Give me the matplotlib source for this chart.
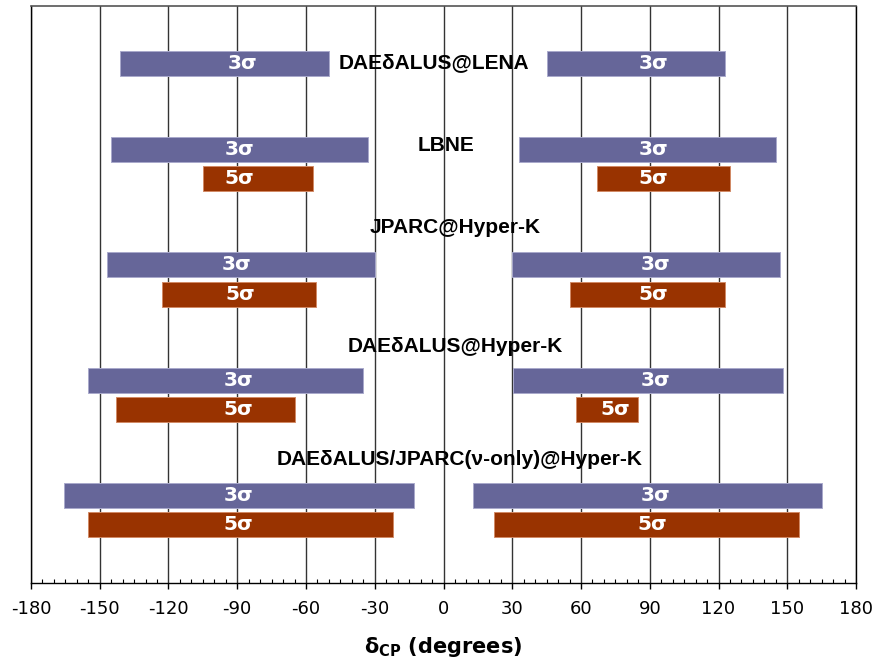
import numpy as np
import matplotlib.pyplot as plt
from matplotlib.ticker import MultipleLocator

plt.rcParams['axes.unicode_minus'] = False

# experiments (top to bottom)
names = ['DAEδALUS@LENA', 'LBNE', 'JPARC@Hyper-K', 'DAEδALUS@Hyper-K',
         'DAEδALUS/JPARC(ν-only)@Hyper-K']

# 3 sigma discovery ranges (degrees): negative side and positive side
s3_neg_lo = [-141, -145, -147, -155, -165.5]
s3_neg_hi = [-50, -33, -30, -35, -13]
s3_pos_lo = [45, 33, 30, 30.5, 13]
s3_pos_hi = [123, 145, 147, 148, 165]

# 5 sigma ranges (none for LENA)
s5_neg_lo = [np.nan, -105, -123, -143, -155]
s5_neg_hi = [np.nan, -57, -55.5, -65, -22]
s5_pos_lo = [np.nan, 67, 55, 58, 22]
s5_pos_hi = [np.nan, 125, 123, 85, 155]

col3 = '#666699'
col5 = '#993300'

# vertical layout (group units, each group is 1 unit tall)
row3 = [0.5, 0.245, 0.245, 0.245, 0.245]
row5 = 0.5
bar_h = 0.216
name_off = [0.49, 0.21, -0.075, -0.05, -0.07]
name_x = [-4, 1, 5, 5, 7]
# where the sigma labels sit (degrees)
lab3_x = [(-87.5, 91.5), (-89, 91.5), (-90.5, 92.3), (-89.5, 92.3), (-89.5, 92.3)]
lab5_x = [None, (-89, 91.5), (-88.8, 91.5), (-89.5, 75), (-89.5, 91)]

fig = plt.figure(figsize=(8.76, 6.68), dpi=100)
ax = fig.add_axes([31/876, 1-582.5/668, 825/876, 576.5/668])

lab_kw = dict(color='white', fontweight='bold', fontsize=14.5,
              family='DejaVu Sans', ha='center', va='center')

for k in range(len(names)):
    y3 = k + row3[k]
    for j, (lo, hi) in enumerate([(s3_neg_lo[k], s3_neg_hi[k]), (s3_pos_lo[k], s3_pos_hi[k])]):
        ax.barh(y3, hi - lo, left=lo, height=bar_h, color=col3,
                edgecolor='#a9a9cc', linewidth=0.7, zorder=3)
        ax.text(lab3_x[k][j], y3, '3σ', zorder=4, **lab_kw)
    if not np.isnan(s5_neg_lo[k]):
        y5 = k + row5
        for j, (lo, hi) in enumerate([(s5_neg_lo[k], s5_neg_hi[k]), (s5_pos_lo[k], s5_pos_hi[k])]):
            ax.barh(y5, hi - lo, left=lo, height=bar_h, color=col5,
                    edgecolor='#d28a66', linewidth=0.7, zorder=3)
            ax.text(lab5_x[k][j], y5, '5σ', zorder=4, **lab_kw)
    ax.text(name_x[k], k + name_off[k], names[k], ha='center', va='center',
            fontsize=15, fontweight='bold', family='Liberation Sans', zorder=5)

ax.set_xlim(-180, 180)
ax.set_ylim(5, 0)
ax.set_xticks(np.arange(-180, 181, 30))
ax.xaxis.set_minor_locator(MultipleLocator(5))
ax.set_yticks([])
ax.tick_params(axis='x', which='major', direction='out', length=4.5,
               width=1, labelsize=13, pad=8, color='black')
ax.tick_params(axis='x', which='minor', direction='in', length=3,
               width=0.8, color='black')
ax.grid(axis='x', which='major', color='#333333', linewidth=1)
ax.set_axisbelow(True)
for s in ['left', 'bottom', 'right']:
    ax.spines[s].set_color('black')
    ax.spines[s].set_linewidth(1)
ax.spines['top'].set_color('#555555')
ax.spines['top'].set_linewidth(1.2)

ax.set_xlabel('δ$_{\\mathbf{CP}}$ (degrees)', fontsize=15, fontweight='bold',
              labelpad=12)

fig.savefig('out.png', dpi=100)
